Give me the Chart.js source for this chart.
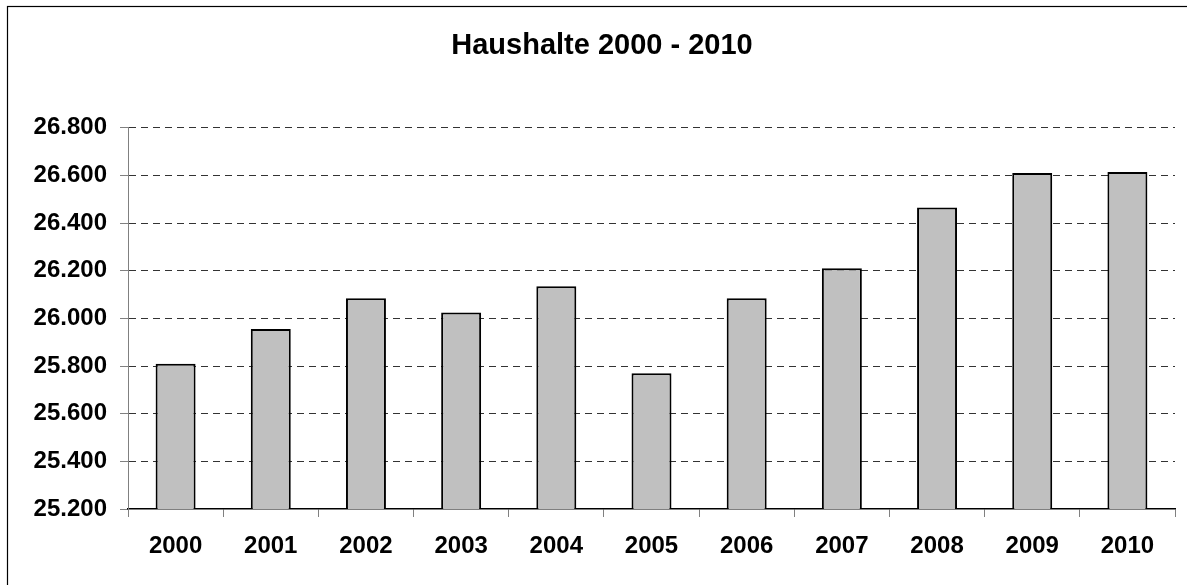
<!DOCTYPE html>
<html>
<head>
<meta charset="utf-8">
<script src="https://cdn.jsdelivr.net/npm/chart.js@4"></script>
<style>
  html, body { margin: 0; padding: 0; background: #fff; }
  #wrap { width: 1187px; height: 585px; position: relative; }
</style>
</head>
<body>
<div id="wrap"><canvas id="c" width="1187" height="585"></canvas></div>
<script>
const categories = ['2000','2001','2002','2003','2004','2005','2006','2007','2008','2009','2010'];
const households = [25810, 25955, 26085, 26025, 26135, 25770, 26085, 26210, 26465, 26610, 26615];
const yTickValues = [25200, 25400, 25600, 25800, 26000, 26200, 26400, 26600, 26800];
const titleText = 'Haushalte 2000 - 2010';

const FONT = "'Liberation Sans', Arial, sans-serif";

function deFormat(v) {
  return String(Math.round(v)).replace(/\B(?=(\d{3})+(?!\d))/g, '.');
}

const frame = {
  id: 'frame',
  beforeDraw(chart) {
    const ctx = chart.ctx;
    ctx.save();
    ctx.fillStyle = '#fff';
    ctx.fillRect(0, 0, chart.width, chart.height);
    ctx.strokeStyle = '#000';
    ctx.lineWidth = 1.2;
    ctx.strokeRect(7.5, 6.5, 1200, 600);
    ctx.restore();
  }
};

new Chart(document.getElementById('c'), {
  type: 'bar',
  data: {
    labels: categories,
    datasets: [{
      data: households,
      backgroundColor: '#C0C0C0',
      borderColor: '#000',
      borderWidth: 2,
      borderSkipped: false,
      barPercentage: 0.42,
      categoryPercentage: 1
    }]
  },
  options: {
    responsive: false,
    animation: false,
    devicePixelRatio: 1,
    layout: { padding: { left: 29, right: 12, top: 0, bottom: 0 } },
    plugins: {
      legend: { display: false },
      tooltip: { enabled: false },
      title: {
        display: true,
        text: titleText,
        color: '#000',
        font: { family: FONT, size: 29, weight: 'bold', lineHeight: 1.2 },
        padding: { top: 29, bottom: 64 }
      }
    },
    scales: {
      x: {
        grid: {
          offset: true,
          drawOnChartArea: false,
          drawTicks: true,
          tickLength: 8,
          tickColor: '#808080',
          tickWidth: 1
        },
        border: { color: '#000', width: 1.5 },
        ticks: {
          color: '#000',
          padding: 15,
          maxRotation: 0,
          autoSkip: false,
          font: { family: FONT, size: 24, weight: 'bold' }
        },
        afterFit(scale) { scale.height = 76; }
      },
      y: {
        min: yTickValues[0],
        max: yTickValues[yTickValues.length - 1],
        afterBuildTicks(scale) {
          scale.ticks = yTickValues.map(v => ({ value: v }));
        },
        grid: {
          color: (c) => (c.index === 0 ? 'rgba(0,0,0,0)' : '#333'),
          lineWidth: 1,
          tickLength: 8,
          tickColor: '#808080',
          tickWidth: 1,
          tickBorderDash: []
        },
        border: { color: '#808080', width: 1, dash: [7, 5] },
        ticks: {
          color: '#000',
          padding: 13,
          font: { family: FONT, size: 24, weight: 'bold' },
          callback: (v) => deFormat(v)
        },
        afterFit(scale) { scale.width = 99; }
      }
    }
  },
  plugins: [frame]
});
</script>
</body>
</html>
